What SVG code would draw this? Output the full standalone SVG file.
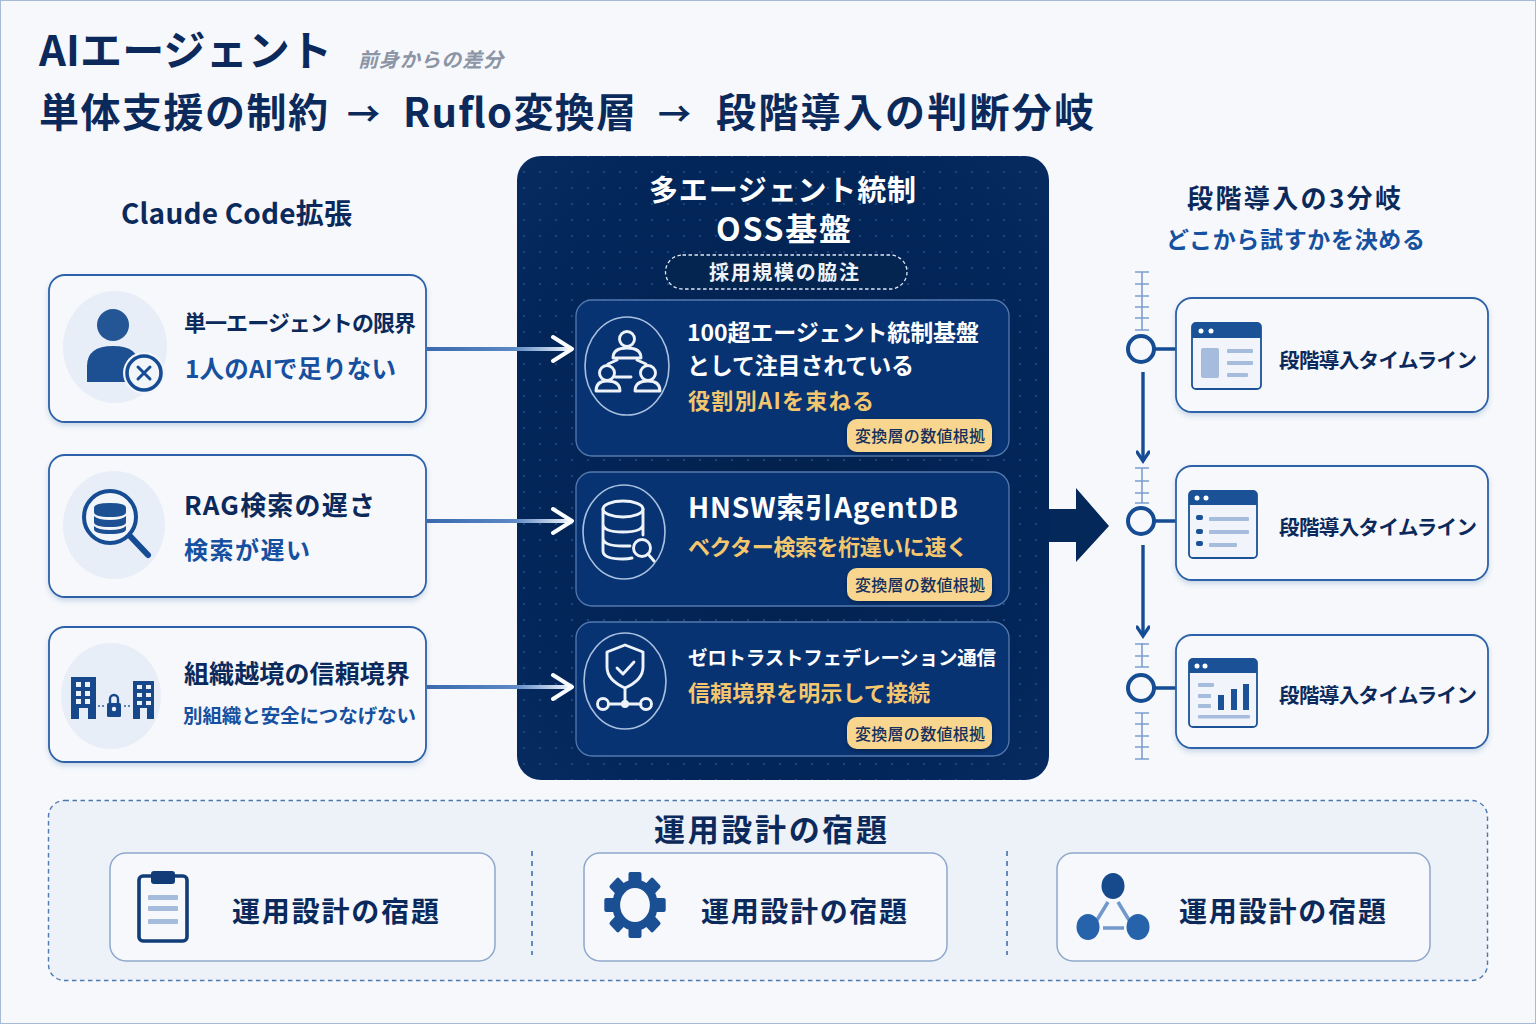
<svg xmlns="http://www.w3.org/2000/svg" width="1536" height="1024" viewBox="0 0 1536 1024">
<style>
text{font-family:"Noto Sans CJK JP","Noto Sans",sans-serif;font-weight:700}
.navy{fill:#0b2a5b}.blue{fill:#1650a0}.white{fill:#fff}.gold{fill:#f4c76e}
.card{fill:#f6f8fb;stroke:#2d62a8;stroke-width:1.8;filter:url(#sh)}
.sub{fill:#073372;stroke:#5479ae;stroke-width:1.3}
.badge{fill:#f8d68f;filter:url(#sh2)}
.bt{fill:#14305c;font-size:16px;font-weight:500}
.tint{fill:#e8eef7}
.ic{fill:none;stroke:#eef3fa;stroke-width:2.9;stroke-linecap:round;stroke-linejoin:round}
.ring{fill:none;stroke:#a9bfdf;stroke-width:1.6}
.tick{stroke:#7c9fd0;stroke-width:1.6}
.tl{stroke:#154c93;stroke-width:3.4;fill:none}
.win{fill:#f1f5fb;stroke:#1b5196;stroke-width:1.8}
.wh{fill:#1b5196}
.bar{fill:#a5bcdd}
.bcard{fill:#f6f8fb;stroke:#8ea8cc;stroke-width:1.5}
.sep{stroke:#3f70ae;stroke-width:1.6;stroke-dasharray:5 5}
.dot{fill:#fff}
</style>
<defs>
<filter id="sh" x="-5%" y="-10%" width="110%" height="125%"><feDropShadow dx="0" dy="3" stdDeviation="2.5" flood-color="#2d62a8" flood-opacity=".22"/></filter>
<filter id="sh2" x="-10%" y="-20%" width="120%" height="150%"><feDropShadow dx="0" dy="2" stdDeviation="2" flood-color="#000" flood-opacity=".3"/></filter>
<pattern id="dots" width="16" height="16" patternUnits="userSpaceOnUse" x="4" y="4"><circle cx="8" cy="8" r="1.1" fill="#1f4c88"/></pattern>
<radialGradient id="pg" cx="50%" cy="50%" r="70%"><stop offset="0" stop-color="#02214c"/><stop offset=".75" stop-color="#03265a"/><stop offset="1" stop-color="#072b60"/></radialGradient>
<linearGradient id="ag" x1="427" x2="572" y1="0" y2="0" gradientUnits="userSpaceOnUse"><stop offset="0" stop-color="#3a6aae"/><stop offset=".6" stop-color="#5c88c4"/><stop offset="1" stop-color="#f4f8fd"/></linearGradient>
<marker id="ah" markerWidth="14" markerHeight="14" refX="11" refY="7" orient="auto" markerUnits="userSpaceOnUse"><path d="M2 1L11 7L2 13" fill="none" stroke="#154c93" stroke-width="3.2" stroke-linecap="round"/></marker>
</defs>
<rect x=".5" y=".5" width="1535" height="1023" fill="#f6f8fb" stroke="#a8bbd6"/>

<g id="title">
<text x="39" y="66" font-size="42" class="navy" textLength="293">AIエージェント</text>
<text x="358" y="67" font-size="20" font-style="italic" fill="#8c95a6" font-weight="500" textLength="145">前身からの差分</text>
<text x="39" y="127" font-size="40" class="navy" textLength="289">単体支援の制約</text>
<text x="347" y="126" font-size="33" class="navy" font-weight="400">→</text>
<text x="403" y="127" font-size="40" class="navy" textLength="233">Ruflo変換層</text>
<text x="658" y="126" font-size="33" class="navy" font-weight="400">→</text>
<text x="716" y="127" font-size="40" class="navy" textLength="378">段階導入の判断分岐</text>
</g>

<g id="heading-left"><text x="121" y="224" font-size="28" class="navy" textLength="231">Claude Code拡張</text></g>
<g id="heading-right">
<text x="1187" y="208" font-size="26" class="navy" textLength="214">段階導入の3分岐</text>
<text x="1166" y="248" font-size="23" class="blue" textLength="259">どこから試すかを決める</text>
</g>

<g id="hub">
<rect x="517" y="156" width="532" height="624" rx="24" fill="url(#pg)"/>
<rect x="517" y="156" width="532" height="624" rx="24" fill="url(#dots)"/>
<text x="649" y="201" font-size="29" class="white" textLength="267">多エージェント統制</text>
<text x="716" y="241" font-size="32" class="white" textLength="135">OSS基盤</text>
<rect x="665.500" y="255" width="241.500" height="34" rx="17" fill="#042550" stroke="#dfe8f4" stroke-width="1.3" stroke-dasharray="3.500 2.500"/>
<text x="709" y="280" font-size="20" fill="#eef3fa" font-weight="500" textLength="150">採用規模の脇注</text>
</g>

<g id="connectors">
<path d="M427 349H572M427 521H572M427 687H572" stroke="url(#ag)" stroke-width="4" fill="none"/>
<path d="M553 337L572 349L553 361M553 509L572 521L553 533M553 675L572 687L553 699" fill="none" stroke="#fbfdff" stroke-width="4" stroke-linecap="round" stroke-linejoin="round"/>
<path id="flow-arrow" d="M1049 509H1076V488L1109 526L1076 562V542H1049Z" fill="#05285a"/>
<path class="tl" d="M1143 372V461" marker-end="url(#ah)"/>
<path class="tl" d="M1143 545V636" marker-end="url(#ah)"/>
<path class="tl" d="M1155 349H1176M1155 521H1176M1155 688H1176"/>
</g>

<g id="limit-1">
<rect class="card" x="49" y="275" width="377" height="147" rx="16"/>
<ellipse class="tint" cx="115" cy="347" rx="52" ry="56"/>
<circle cx="113" cy="325" r="16" fill="#245695"/>
<path d="M87 382V366Q87 346 113 346Q139 346 139 366V382Z" fill="#1d5092"/>
<circle cx="144" cy="373" r="21" fill="#f2f5fa"/>
<circle cx="144" cy="373" r="17" fill="none" stroke="#154c93" stroke-width="3.6"/>
<path d="M138 367L150 379M150 367L138 379" stroke="#154c93" stroke-width="3" stroke-linecap="round"/>
<text x="184" y="331" font-size="22" class="navy" textLength="232">単一エージェントの限界</text>
<text x="185" y="378" font-size="24.500" class="blue" textLength="211">1人のAIで足りない</text>
</g>

<g id="limit-2">
<rect class="card" x="49" y="455" width="377" height="142" rx="16"/>
<ellipse class="tint" cx="114" cy="525" rx="51" ry="54"/>
<circle cx="110" cy="517" r="26" fill="#f2f5fa" stroke="#154c93" stroke-width="4"/>
<path d="M130 536L148 555" stroke="#154c93" stroke-width="6" stroke-linecap="round"/>
<path d="M94 508Q94 503 110 503Q126 503 126 508V512Q126 517 110 517Q94 517 94 512Z" fill="#1d5092"/>
<path d="M94 516Q98 520 110 520Q122 520 126 516V522Q126 527 110 527Q94 527 94 522Z" fill="#1d5092"/>
<path d="M94 526Q98 530 110 530Q122 530 126 526V529Q126 534 110 534Q94 534 94 529Z" fill="#1d5092"/>
<text x="184" y="515" font-size="26" class="navy" textLength="191">RAG検索の遅さ</text>
<text x="184" y="559" font-size="24" class="blue" textLength="126">検索が遅い</text>
</g>

<g id="limit-3">
<rect class="card" x="49" y="627" width="377" height="135" rx="16"/>
<ellipse class="tint" cx="111" cy="696" rx="50" ry="53"/>
<path d="M71 677H96V719H88V708H79V719H71Z" fill="#17488c"/>
<path d="M133 681H154V719H147V708H140V719H133Z" fill="#17488c"/>
<path fill="#eef3fa" d="M76 682h5v5h-5zM85 682h5v5h-5zM76 691h5v5h-5zM85 691h5v5h-5zM76 699h5v5h-5zM85 699h5v5h-5zM137 685h5v4h-5zM146 685h5v4h-5zM137 693h5v4h-5zM146 693h5v4h-5zM137 701h5v4h-5zM146 701h5v4h-5z"/>
<rect x="107" y="703" width="14" height="14" rx="1.500" fill="#17488c"/>
<path d="M110 703V699A4 4 0 0 1 118 699V703" fill="none" stroke="#17488c" stroke-width="2.4"/>
<circle cx="114" cy="709" r="2.200" fill="#eef3fa"/>
<path d="M98 706H104M124 706H131" stroke="#5b84bb" stroke-width="2" stroke-dasharray="2 2"/>
<text x="184" y="683" font-size="25" class="navy" textLength="226">組織越境の信頼境界</text>
<text x="183" y="723" font-size="19.500" class="blue" textLength="233">別組織と安全につなげない</text>
</g>

<g id="layer-1">
<rect class="sub" x="576" y="300" width="433" height="156" rx="16"/>
<ellipse class="ring" cx="627" cy="366" rx="42" ry="49"/>
<circle class="ic" cx="627" cy="339" r="7.500"/>
<path class="ic" d="M613 358Q613 348 627 348Q641 348 641 358Z"/>
<circle class="ic" cx="607" cy="373" r="7.500"/>
<path class="ic" d="M596 391Q596 381 607 381Q620 381 620 391Z"/>
<circle class="ic" cx="648" cy="373" r="7.500"/>
<path class="ic" d="M635 391Q635 381 648 381Q660 381 660 391Z"/>
<path class="ic" d="M617 360L608 364M637 360L646 364M615 377H631" stroke-width="2"/>
<text x="687" y="341" font-size="23" class="white" textLength="292">100超エージェント統制基盤</text>
<text x="687" y="374" font-size="23" class="white" textLength="227">として注目されている</text>
<text x="688" y="409" font-size="22" class="gold" textLength="186">役割別AIを束ねる</text>
<rect class="badge" x="847" y="419" width="145" height="33" rx="10"/>
<text class="bt" x="855" y="442" textLength="130">変換層の数値根拠</text>
</g>

<g id="layer-2">
<rect class="sub" x="576" y="472" width="433" height="134" rx="16"/>
<ellipse class="ring" cx="624" cy="532" rx="41" ry="47"/>
<ellipse class="ic" cx="623" cy="509" rx="20" ry="8"/>
<path class="ic" d="M603 509V551Q603 559 623 559Q628 559 632 558M643 509V535M603 524Q603 532 623 532Q643 532 643 524M603 538Q603 546 623 546H630"/>
<circle class="ic" cx="642" cy="548" r="8.500"/>
<path class="ic" d="M648 554L654 561"/>
<text x="688" y="518" font-size="28" class="white" textLength="270">HNSW索引AgentDB</text>
<text x="688" y="555" font-size="22" class="gold" textLength="280">ベクター検索を桁違いに速く</text>
<rect class="badge" x="847" y="568" width="145" height="33" rx="10"/>
<text class="bt" x="855" y="591" textLength="130">変換層の数値根拠</text>
</g>

<g id="layer-3">
<rect class="sub" x="576" y="622" width="433" height="134" rx="16"/>
<ellipse class="ring" cx="625" cy="681" rx="41" ry="48"/>
<path class="ic" d="M625 645L643 652V667Q643 680 625 688Q607 680 607 667V652Z"/>
<path class="ic" d="M617 668L623 674L634 662" stroke-width="3"/>
<path class="ic" d="M625 688V704M609 704H641"/>
<circle class="ic" cx="603" cy="704" r="5.500"/>
<circle class="ic" cx="646" cy="704" r="5.500"/>
<circle cx="625" cy="704" r="4" fill="#eef3fa"/>
<text x="688" y="665" font-size="19.500" class="white" textLength="308">ゼロトラストフェデレーション通信</text>
<text x="688" y="701" font-size="22" class="gold" textLength="242">信頼境界を明示して接続</text>
<rect class="badge" x="847" y="717" width="145" height="32" rx="10"/>
<text class="bt" x="855" y="740" textLength="130">変換層の数値根拠</text>
</g>

<g id="timeline-marks">
<path class="tick" d="M1142 272V330M1135 272H1149M1135 284H1149M1135 296H1149M1135 307H1149M1135 318H1149M1135 330H1149"/>
<path class="tick" d="M1142 468V503M1135 468H1149M1135 481H1149M1135 493H1149M1135 503H1149"/>
<path class="tick" d="M1142 643V667M1135 644H1149M1135 656H1149M1135 667H1149"/>
<path class="tick" d="M1142 713V759M1135 713H1149M1135 724H1149M1135 736H1149M1135 747H1149M1135 759H1149"/>
<circle cx="1141" cy="349" r="13" fill="#f6f8fb" stroke="#154c93" stroke-width="4"/>
<circle cx="1141" cy="521" r="13" fill="#f6f8fb" stroke="#154c93" stroke-width="4"/>
<circle cx="1141" cy="688" r="13" fill="#f6f8fb" stroke="#154c93" stroke-width="4"/>
</g>

<g id="phase-1">
<rect class="card" x="1176" y="298" width="312" height="114" rx="16"/>
<rect class="win" x="1192" y="323" width="69" height="66" rx="4"/>
<path class="wh" d="M1192 338V327a4 4 0 0 1 4-4h61a4 4 0 0 1 4 4v11Z"/>
<circle class="dot" cx="1201" cy="331" r="2.500"/><circle class="dot" cx="1211" cy="331" r="2.500"/>
<rect class="bar" x="1201" y="348" width="18" height="30" rx="2"/>
<rect class="bar" x="1227" y="349" width="26" height="4" rx="1"/>
<rect class="bar" x="1227" y="361" width="26" height="4" rx="1"/>
<rect class="bar" x="1227" y="373" width="21" height="4" rx="1"/>
<text x="1279" y="368" font-size="20.500" class="navy" textLength="198">段階導入タイムライン</text>
</g>

<g id="phase-2">
<rect class="card" x="1176" y="466" width="312" height="114" rx="16"/>
<rect class="win" x="1189" y="491" width="68" height="67" rx="4"/>
<path class="wh" d="M1189 505V495a4 4 0 0 1 4-4h60a4 4 0 0 1 4 4v10Z"/>
<circle class="dot" cx="1197" cy="498" r="2.500"/><circle class="dot" cx="1206" cy="498" r="2.500"/>
<rect class="wh" x="1196" y="515" width="7" height="5" rx="2"/><rect class="bar" x="1209" y="517" width="40" height="4" rx="1"/>
<rect class="wh" x="1196" y="529" width="7" height="5" rx="2"/><rect class="bar" x="1209" y="530" width="40" height="4" rx="1"/>
<rect class="wh" x="1196" y="541" width="7" height="5" rx="2"/><rect class="bar" x="1209" y="543" width="28" height="4" rx="1"/>
<text x="1279" y="535" font-size="20.500" class="navy" textLength="198">段階導入タイムライン</text>
</g>

<g id="phase-3">
<rect class="card" x="1176" y="635" width="312" height="113" rx="16"/>
<rect class="win" x="1189" y="659" width="68" height="68" rx="4"/>
<path class="wh" d="M1189 673V663a4 4 0 0 1 4-4h60a4 4 0 0 1 4 4v10Z"/>
<circle class="dot" cx="1197" cy="666" r="2.500"/><circle class="dot" cx="1205" cy="666" r="2.500"/>
<rect class="bar" x="1198" y="683" width="16" height="4" rx="1"/>
<rect class="bar" x="1198" y="694" width="13" height="4" rx="1"/>
<rect class="bar" x="1198" y="704" width="13" height="4" rx="1"/>
<rect class="wh" x="1218" y="695" width="6" height="15"/>
<rect class="wh" x="1231" y="689" width="6" height="21"/>
<rect class="wh" x="1243" y="684" width="6" height="26"/>
<rect class="bar" x="1198" y="715" width="52" height="3.500" rx="1"/>
<text x="1279" y="703" font-size="20.500" class="navy" textLength="198">段階導入タイムライン</text>
</g>

<g id="ops">
<rect x="48.500" y="800.500" width="1439" height="180" rx="16" fill="#edf1f8" stroke="#4f79b0" stroke-width="1.400" stroke-dasharray="4.500 3.500"/>
<text x="654" y="841" font-size="31" class="navy" textLength="233">運用設計の宿題</text>
<path class="sep" d="M532 851V955M1007 851V955"/>
</g>

<g id="ops-1">
<rect class="bcard" x="110" y="853" width="385" height="108" rx="16"/>
<rect x="139" y="876" width="48" height="65" rx="4" fill="none" stroke="#113c78" stroke-width="3.600"/>
<rect x="151" y="871" width="24" height="13" rx="3" fill="#113c78"/>
<rect class="bar" x="148" y="895" width="30" height="5" rx="1"/>
<rect class="bar" x="148" y="906" width="30" height="5" rx="1"/>
<rect class="bar" x="148" y="919" width="30" height="5" rx="1"/>
<text x="232" y="922" font-size="28" class="navy" textLength="207">運用設計の宿題</text>
</g>

<g id="ops-2">
<rect class="bcard" x="584" y="853" width="363" height="108" rx="16"/>
<g transform="translate(635 905) scale(.93 1) translate(-635 -905)">
<g fill="#1b4f94">
<rect x="628" y="872" width="14" height="66" rx="2"/>
<rect x="628" y="872" width="14" height="66" rx="2" transform="rotate(45 635 905)"/>
<rect x="628" y="872" width="14" height="66" rx="2" transform="rotate(90 635 905)"/>
<rect x="628" y="872" width="14" height="66" rx="2" transform="rotate(135 635 905)"/>
</g>
<ellipse cx="635" cy="905" rx="20" ry="21" fill="none" stroke="#1b4f94" stroke-width="9"/>
<ellipse cx="635" cy="905" rx="16" ry="17" fill="#f6f8fb"/>
</g>
<text x="701" y="922" font-size="28" class="navy" textLength="206">運用設計の宿題</text>
</g>

<g id="ops-3">
<rect class="bcard" x="1057" y="853" width="373" height="108" rx="16"/>
<path d="M1108 902L1097 920M1118 902L1129 920M1103 928H1124" stroke="#7198cb" stroke-width="3.500" fill="none"/>
<ellipse cx="1113" cy="886" rx="11.500" ry="13" fill="#164a8d"/>
<ellipse cx="1088" cy="927" rx="11.500" ry="13" fill="#2763aa"/>
<ellipse cx="1138" cy="927" rx="11.500" ry="13" fill="#2763aa"/>
<text x="1179" y="922" font-size="28" class="navy" textLength="207">運用設計の宿題</text>
</g>
</svg>
